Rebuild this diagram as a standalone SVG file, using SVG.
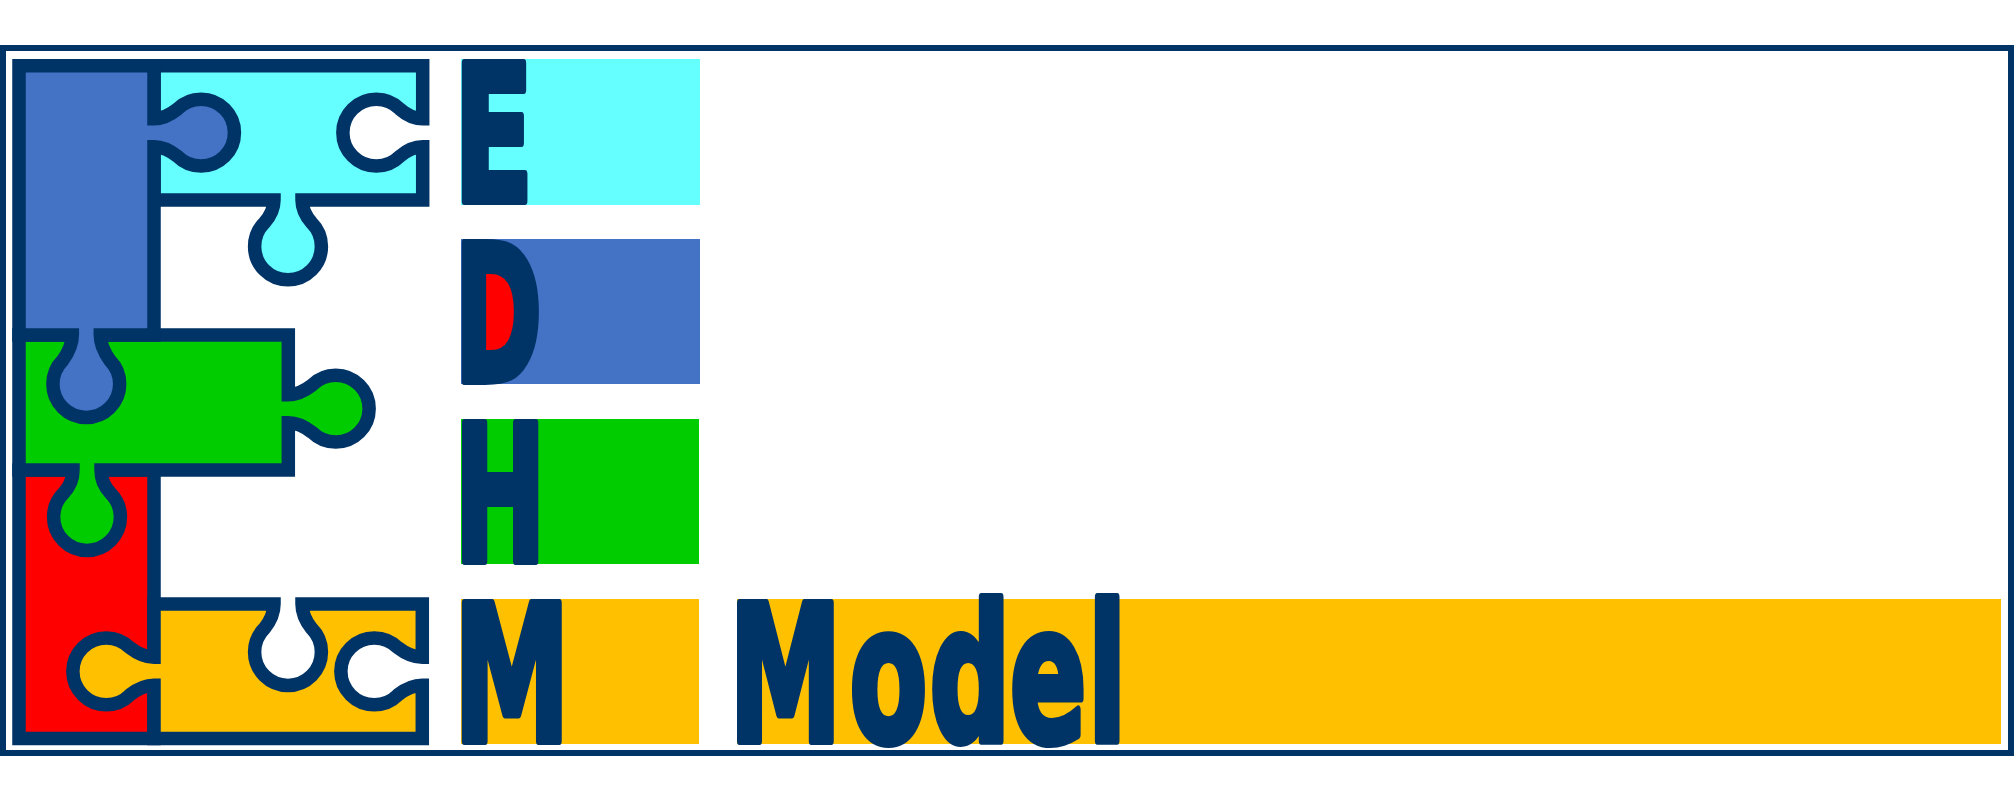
<svg xmlns="http://www.w3.org/2000/svg" width="2014" height="797" viewBox="0 0 2014 797">
<style>
.p{stroke:#003366;stroke-width:13.5;stroke-miterlimit:10}
.t{font-family:"DejaVu Sans",sans-serif;font-weight:700;font-size:189px;fill:#003366;stroke:#003366;stroke-width:8;stroke-linejoin:round}
</style>
<rect width="2014" height="797" fill="#fff"/>
<rect id="frame" x="3" y="48" width="2008" height="705" fill="none" stroke="#003366" stroke-width="6"/>
<g id="puzzle">
<path id="piece-m" class="p" fill="#FF0000" d="M19,470H154V738.5H19Z"/>
<path id="piece-orange" class="p" fill="#FFC000" d="M154,604H274C274,613 270.4,621 264.4,628.4A33.4,33.4 0 1 0 311.6,628.4C305.6,621 302,613 302,604H422.3V657.3C413.3,657.3 405.5,653.6 397.9,647.7A33.4,33.4 0 1 0 397.9,694.9C405.5,689 413.3,685.3 422.3,685.3V738.5H154V685.3C145,685.3 137.5,689 129.9,694.9A33.4,33.4 0 1 1 129.9,647.7C137.5,653.6 145,657.3 154,657.3Z"/>
<path id="piece-h" class="p" fill="#00CC00" d="M19,335H288.3V394.7C297.3,394.7 304.5,391 312.1,385.1A33.4,33.4 0 1 1 312.1,432.3C304.5,426.4 297.3,422.7 288.3,422.7V470H101C101,479 104.6,487 110.6,493.4A33.4,33.4 0 1 1 63.4,493.4C69.4,487 73,479 73,470H19Z"/>
<path id="piece-e" class="p" fill="#66FFFF" d="M154,65.7H422.7V118.7C413.7,118.7 406.7,115.1 399.9,109.1A33.4,33.4 0 1 0 399.9,156.3C406.7,150.3 413.7,146.7 422.7,146.7V200H302C302,209 305.6,216 311.6,222.8A33.4,33.4 0 1 1 264.4,222.8C270.4,216 274,209 274,200H154Z"/>
<path id="piece-d" class="p" fill="#4472C4" d="M19,65.7H154V118.7C163,118.7 170,115 177.4,109.1A33.4,33.4 0 1 1 177.4,156.3C170,150.3 163,146.7 154,146.7V335H100.3C100.3,344 103.9,352 109.9,360.4A33.4,33.4 0 1 1 62.7,360.4C68.7,352 72.3,344 72.3,335H19Z"/>
</g>
<g id="row-e"><rect x="461" y="59" width="239" height="146" fill="#66FFFF"/><text class="t" transform="translate(453.5,201) scale(.62,1)">E</text></g>
<g id="row-d"><rect x="461" y="239" width="239" height="145" fill="#4472C4"/><rect x="482" y="258" width="36" height="106" fill="#FF0000"/><text class="t" transform="translate(454.3,381) scale(.56,1)">D</text></g>
<g id="row-h"><rect x="461" y="419" width="238" height="145" fill="#00CC00"/><text class="t" transform="translate(454.3,561) scale(.58,1)">H</text></g>
<g id="row-m"><rect x="461" y="599" width="238" height="145" fill="#FFC000"/><text class="t" transform="translate(453.5,741) scale(.62,1)">M</text></g>
<g id="row-model"><rect x="737" y="599" width="1264" height="145" fill="#FFC000"/><text class="t" transform="translate(0,740.5) scale(.6,1)" x="1215 1416 1549 1683 1813">Model</text></g>
</svg>
